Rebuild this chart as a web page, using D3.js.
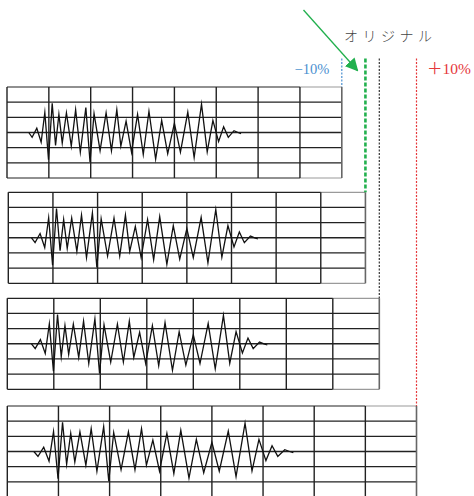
<!DOCTYPE html>
<html>
<head>
<meta charset="utf-8">
<script src="https://cdn.jsdelivr.net/npm/d3@7/dist/d3.min.js"></script>
<style>
  html, body { margin: 0; padding: 0; background: #fff; }
  svg { display: block; }
</style>
</head>
<body>
<svg id="chart" width="474" height="496"></svg>
<script>
// ---- data ----
// waveform: position along the panel (fraction of panel width) and amplitude (in grid rows, up = +)
const waveU = [0.065, 0.075, 0.089, 0.102, 0.113, 0.124, 0.135, 0.145, 0.155, 0.165,
               0.1775, 0.192, 0.205, 0.219, 0.2355, 0.248, 0.260, 0.278, 0.296, 0.312,
               0.328, 0.340, 0.3557, 0.372, 0.390, 0.407, 0.424, 0.444, 0.462, 0.480,
               0.500, 0.518, 0.540, 0.559, 0.581, 0.598, 0.615, 0.632, 0.647, 0.661,
               0.678, 0.690, 0.699];
const waveV = [0, -0.32, 0.28, -0.64, 1.32, -1.8, 1.93, -0.85, 1.2, -0.7,
               1.3, -0.9, 1.5, -1.3, 1.64, -1.95, 1.25, -1.2, 1.3, -1.2,
               1.5, -0.9, 0.75, -1.3, 1.2, -1.45, 1.4, -1.75, 0.8, -1.4,
               0.6, -1.3, 1.35, -1.65, 1.87, -1.28, 0.8, -0.6, 0.38, -0.32,
               0.12, 0.0, -0.08];
// time-scale factor of each panel (relative to the original)
const scaleFactors = [0.90, 0.96, 1.00, 1.10];
const markerLabels = ["\u221210%", "", "\u30aa\u30ea\u30b8\u30ca\u30eb", "\uff0b10%"];
const markerColors = ["#4a90d0", "#22b04e", "#333333", "#e5383b"];
const nCols = 8, nRows = 6;

// ---- layout ----
const baseWidth = 372, panelH = 91;
const panelPos = [[7, 87], [8.3, 192.3], [7.3, 298.3], [7.3, 406]];
const markerTop = 58.5;

const svg = d3.select("#chart");

// arrow marker
svg.append("defs").append("marker")
  .attr("id", "ah").attr("viewBox", "0 0 10 10")
  .attr("refX", 9).attr("refY", 5)
  .attr("markerWidth", 13).attr("markerHeight", 13)
  .attr("markerUnits", "userSpaceOnUse")
  .attr("orient", "auto")
  .append("path").attr("d", "M0,0 L10,5 L0,10 Z").attr("fill", "#22b04e");

scaleFactors.forEach((f, i) => {
  const [left, top] = panelPos[i];
  const w = baseWidth * f;
  const x = d3.scaleLinear().domain([0, 1]).range([left, left + w]);
  const y = d3.scaleLinear().domain([-nRows / 2, nRows / 2]).range([top + panelH, top]);
  const g = svg.append("g");

  // horizontal grid lines
  d3.range(-nRows / 2, nRows / 2 + 1).forEach(r => {
    const edge = Math.abs(r) === nRows / 2;
    g.append("line")
      .attr("x1", x(0)).attr("x2", edge ? x((nCols - 1) / nCols) : x(1))
      .attr("y1", y(r)).attr("y2", y(r))
      .attr("stroke", "#222").attr("stroke-width", r === 0 ? 1.5 : 1.2);
    if (edge) {
      g.append("line")
        .attr("x1", x((nCols - 1) / nCols)).attr("x2", x(1))
        .attr("y1", y(r)).attr("y2", y(r))
        .attr("stroke", "#9a9a9a").attr("stroke-width", 1.2);
    }
  });
  // vertical grid lines
  d3.range(0, nCols + 1).forEach(c => {
    g.append("line")
      .attr("x1", x(c / nCols)).attr("x2", x(c / nCols))
      .attr("y1", y(nRows / 2)).attr("y2", y(-nRows / 2))
      .attr("stroke", c === nCols ? "#666" : "#222")
      .attr("stroke-width", c === nCols ? 1.6 : 1.4);
  });

  // waveform
  const pts = waveU.map((u, k) => [u, waveV[k]]);
  g.append("path")
    .attr("d", d3.line().x(d => x(d[0])).y(d => y(d[1]))(pts))
    .attr("fill", "none").attr("stroke", "#111").attr("stroke-width", 1.3)
    .attr("stroke-linejoin", "miter").attr("stroke-miterlimit", 10);

  // marker line from the top to the panel
  const mx = x(1);
  const ml = svg.append("line")
    .attr("x1", mx).attr("x2", mx)
    .attr("y1", markerTop).attr("y2", top)
    .attr("stroke", markerColors[i]);
  if (i === 1) ml.attr("stroke-width", 2.6).attr("stroke-dasharray", "4,2");
  else ml.attr("stroke-width", 1.2).attr("stroke-dasharray", "2,1.5");
});

// labels
svg.append("text").attr("x", 294.5).attr("y", 73.5)
  .attr("font-family", "'Liberation Serif', 'DejaVu Serif', serif").attr("font-size", 14.5)
  .attr("fill", markerColors[0]).text(markerLabels[0]);
svg.append("text").attr("x", 427).attr("y", 74)
  .attr("font-family", "'Liberation Serif', 'Noto Sans CJK JP', serif").attr("font-size", 15.5)
  .attr("fill", markerColors[3]).text(markerLabels[3]);
svg.append("text").attr("x", 344).attr("y", 40.5)
  .attr("font-family", "'Noto Sans CJK JP', sans-serif").attr("font-size", 14)
  .attr("font-weight", 300)
  .attr("letter-spacing", 4.5)
  .attr("fill", "#444").text(markerLabels[2]);

// green arrow
svg.append("line")
  .attr("x1", 303.5).attr("y1", 10).attr("x2", 357.5).attr("y2", 70.5)
  .attr("stroke", "#22b04e").attr("stroke-width", 1.3)
  .attr("marker-end", "url(#ah)");
</script>
</body>
</html>
